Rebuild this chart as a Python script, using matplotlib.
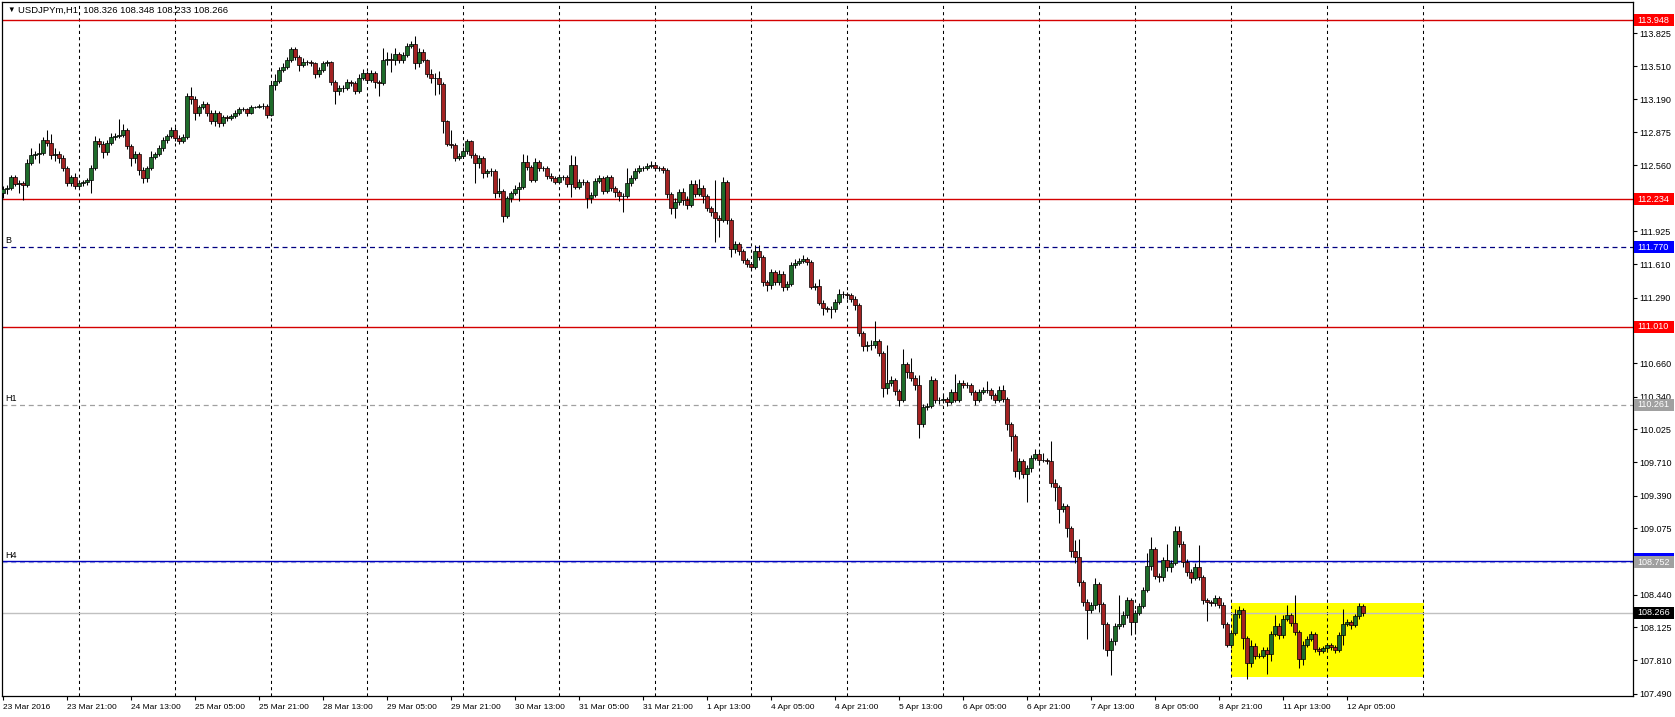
import numpy as np
import matplotlib.pyplot as plt
import matplotlib.transforms as mtransforms
from matplotlib.patches import Rectangle

plt.rcParams['font.family'] = ['Liberation Sans', 'DejaVu Sans']

# USDJPYm H1, bar 0 = 23 Mar 2016 05:00, open of first bar
first_open = 112.29

closes = [
    112.33, 112.34, 112.45, 112.38, 112.39, 112.37, 112.58, 112.66, 112.67, 112.68,
    112.80, 112.77, 112.66, 112.67, 112.63, 112.53, 112.39, 112.45, 112.36, 112.39,
    112.40, 112.42, 112.53, 112.79, 112.76, 112.69, 112.77, 112.83, 112.84, 112.85,
    112.90, 112.74, 112.63, 112.67, 112.51, 112.44, 112.53, 112.64, 112.67, 112.72,
    112.80, 112.84, 112.90, 112.82, 112.79, 112.83, 113.22, 113.19, 113.06, 113.12,
    113.15, 113.06, 112.98, 113.06, 112.96, 113.02, 113.01, 113.03, 113.06, 113.10,
    113.10, 113.06, 113.12, 113.12, 113.13, 113.13, 113.04, 113.33, 113.37, 113.47,
    113.50, 113.57, 113.67, 113.60, 113.52, 113.55, 113.55, 113.54, 113.43, 113.47,
    113.54, 113.55, 113.36, 113.27, 113.30, 113.30, 113.36, 113.35, 113.27, 113.40,
    113.44, 113.38, 113.44, 113.36, 113.35, 113.57, 113.58, 113.57, 113.63, 113.57,
    113.62, 113.70, 113.72, 113.54, 113.65, 113.57, 113.43, 113.40, 113.40, 113.34,
    112.98, 112.76, 112.75, 112.63, 112.65, 112.70, 112.79, 112.66, 112.58, 112.63,
    112.48, 112.50, 112.50, 112.29, 112.31, 112.07, 112.24, 112.29, 112.33, 112.35,
    112.59, 112.54, 112.42, 112.59, 112.53, 112.53, 112.46, 112.44, 112.40, 112.45,
    112.45, 112.38, 112.56, 112.35, 112.40, 112.40, 112.24, 112.27, 112.41, 112.44,
    112.31, 112.45, 112.34, 112.30, 112.26, 112.26, 112.39, 112.44, 112.50, 112.53,
    112.53, 112.55, 112.56, 112.53, 112.53, 112.51, 112.28, 112.15, 112.21, 112.30,
    112.23, 112.18, 112.38, 112.28, 112.34, 112.26, 112.15, 112.11, 112.05, 112.03,
    112.40, 112.03, 111.76, 111.80, 111.74, 111.65, 111.61, 111.58, 111.74, 111.68,
    111.44, 111.41, 111.53, 111.44, 111.52, 111.39, 111.42, 111.60, 111.62, 111.64,
    111.66, 111.63, 111.39, 111.40, 111.24, 111.19, 111.18, 111.18, 111.25, 111.32,
    111.32, 111.31, 111.28, 111.22, 110.95, 110.82, 110.83, 110.83, 110.87, 110.76,
    110.42, 110.47, 110.50, 110.39, 110.31, 110.65, 110.58, 110.52, 110.45, 110.08,
    110.24, 110.25, 110.50, 110.31, 110.31, 110.32, 110.29, 110.38, 110.31, 110.47,
    110.45, 110.45, 110.38, 110.31, 110.38, 110.40, 110.40, 110.35, 110.31, 110.40,
    110.32, 110.08, 109.96, 109.63, 109.72, 109.60, 109.65, 109.75, 109.79, 109.73,
    109.73, 109.72, 109.51, 109.47, 109.26, 109.29, 109.08, 108.86, 108.80, 108.56,
    108.37, 108.29, 108.34, 108.54, 108.35, 108.16, 107.91, 107.99, 108.14, 108.16,
    108.24, 108.39, 108.18, 108.26, 108.33, 108.48, 108.71, 108.88, 108.62, 108.61,
    108.77, 108.70, 108.74, 109.05, 108.93, 108.75, 108.66, 108.60, 108.70, 108.61,
    108.39, 108.37, 108.36, 108.41, 108.34, 108.16, 107.96, 108.07, 108.25, 108.29,
    108.02, 107.78, 107.95, 107.85, 107.85, 107.91, 107.87, 108.06, 108.14, 108.05,
    108.21, 108.24, 108.17, 108.08, 107.82, 107.96, 108.01, 108.06, 107.92, 107.90,
    107.93, 107.96, 107.94, 107.91, 108.05, 108.16, 108.18, 108.15, 108.23, 108.326,
    108.266,
]

highs = [
    112.36, 112.37, 112.47, 112.47, 112.42, 112.41, 112.62, 112.72, 112.70, 112.77,
    112.83, 112.90, 112.86, 112.72, 112.70, 112.66, 112.55, 112.47, 112.48, 112.42,
    112.42, 112.44, 112.56, 112.84, 112.82, 112.79, 112.80, 112.87, 112.87, 113.00,
    112.95, 112.92, 112.76, 112.70, 112.69, 112.54, 112.55, 112.70, 112.69, 112.75,
    112.83, 112.86, 112.93, 112.93, 112.85, 112.86, 113.25, 113.31, 113.22, 113.14,
    113.18, 113.17, 113.09, 113.09, 113.08, 113.04, 113.04, 113.05, 113.09, 113.12,
    113.12, 113.11, 113.14, 113.13, 113.15, 113.16, 113.15, 113.35, 113.43, 113.50,
    113.54, 113.60, 113.69, 113.69, 113.62, 113.59, 113.57, 113.57, 113.55, 113.50,
    113.56, 113.57, 113.56, 113.38, 113.33, 113.33, 113.39, 113.38, 113.37, 113.43,
    113.48, 113.46, 113.47, 113.46, 113.38, 113.68, 113.65, 113.64, 113.68, 113.65,
    113.65, 113.73, 113.75, 113.80, 113.68, 113.67, 113.58, 113.48, 113.44, 113.46,
    113.36, 112.99, 112.90, 112.77, 112.68, 112.73, 112.81, 112.80, 112.68, 112.66,
    112.65, 112.52, 112.53, 112.52, 112.44, 112.33, 112.26, 112.31, 112.37, 112.40,
    112.67, 112.66, 112.56, 112.63, 112.61, 112.55, 112.55, 112.48, 112.46, 112.47,
    112.47, 112.47, 112.66, 112.65, 112.43, 112.43, 112.42, 112.30, 112.44, 112.47,
    112.46, 112.47, 112.47, 112.36, 112.32, 112.29, 112.53, 112.47, 112.53, 112.56,
    112.55, 112.58, 112.60, 112.58, 112.55, 112.55, 112.53, 112.30, 112.24, 112.33,
    112.34, 112.26, 112.42, 112.42, 112.43, 112.37, 112.28, 112.17, 112.42, 112.08,
    112.45, 112.42, 112.05, 111.83, 111.82, 111.76, 111.67, 111.63, 111.79, 111.79,
    111.70, 111.46, 111.56, 111.55, 111.55, 111.54, 111.45, 111.63, 111.66, 111.67,
    111.70, 111.68, 111.65, 111.43, 111.47, 111.27, 111.21, 111.21, 111.28, 111.37,
    111.35, 111.34, 111.33, 111.30, 111.24, 110.97, 110.87, 110.88, 111.06, 110.89,
    110.78, 110.83, 110.54, 110.52, 110.41, 110.80, 110.67, 110.71, 110.55, 110.55,
    110.27, 110.28, 110.54, 110.52, 110.34, 110.35, 110.34, 110.41, 110.56, 110.50,
    110.50, 110.48, 110.47, 110.40, 110.41, 110.43, 110.49, 110.42, 110.37, 110.44,
    110.45, 110.34, 110.10, 109.98, 109.75, 109.74, 109.68, 109.78, 109.84, 109.81,
    109.80, 109.75, 109.91, 109.55, 109.49, 109.32, 109.31, 109.10, 108.96, 108.97,
    108.58, 108.40, 108.37, 108.60, 108.56, 108.37, 108.18, 108.02, 108.17, 108.44,
    108.28, 108.42, 108.41, 108.29, 108.36, 108.51, 108.84, 108.99, 108.90, 108.65,
    108.80, 108.93, 108.77, 109.10, 109.10, 108.95, 108.78, 108.69, 108.74, 108.92,
    108.63, 108.41, 108.39, 108.44, 108.43, 108.37, 108.18, 108.10, 108.30, 108.33,
    108.31, 108.04, 108.00, 107.98, 107.88, 107.94, 107.94, 108.09, 108.24, 108.17,
    108.24, 108.34, 108.26, 108.44, 108.10, 107.99, 108.04, 108.09, 108.08, 107.94,
    107.95, 107.98, 107.98, 107.96, 108.08, 108.30, 108.21, 108.20, 108.25, 108.36,
    108.348,
]

lows = [
    112.24, 112.28, 112.32, 112.36, 112.29, 112.23, 112.35, 112.56, 112.62, 112.58,
    112.66, 112.74, 112.62, 112.60, 112.58, 112.50, 112.36, 112.36, 112.33, 112.34,
    112.36, 112.37, 112.29, 112.51, 112.73, 112.63, 112.66, 112.75, 112.80, 112.82,
    112.83, 112.71, 112.55, 112.58, 112.47, 112.39, 112.40, 112.51, 112.62, 112.65,
    112.70, 112.77, 112.82, 112.79, 112.76, 112.77, 112.81, 113.15, 112.99, 113.03,
    113.10, 113.03, 112.95, 112.94, 112.93, 112.94, 112.98, 112.99, 113.01, 113.04,
    113.08, 113.03, 113.05, 113.11, 113.11, 113.10, 113.01, 113.03, 113.28, 113.35,
    113.45, 113.48, 113.55, 113.57, 113.46, 113.50, 113.52, 113.51, 113.40, 113.41,
    113.45, 113.51, 113.33, 113.15, 113.23, 113.26, 113.28, 113.32, 113.24, 113.25,
    113.38, 113.35, 113.36, 113.30, 113.22, 113.33, 113.52, 113.45, 113.52, 113.54,
    113.54, 113.60, 113.68, 113.48, 113.50, 113.55, 113.41, 113.35, 113.23, 113.24,
    112.87, 112.74, 112.72, 112.60, 112.61, 112.63, 112.67, 112.63, 112.39, 112.53,
    112.44, 112.45, 112.46, 112.24, 112.25, 112.01, 112.05, 112.21, 112.27, 112.22,
    112.33, 112.51, 112.40, 112.40, 112.50, 112.50, 112.43, 112.41, 112.38, 112.38,
    112.42, 112.35, 112.25, 112.33, 112.33, 112.37, 112.15, 112.20, 112.25, 112.39,
    112.28, 112.29, 112.31, 112.25, 112.22, 112.11, 112.24, 112.36, 112.42, 112.48,
    112.50, 112.51, 112.53, 112.51, 112.50, 112.48, 112.24, 112.09, 112.05, 112.18,
    112.18, 112.14, 112.16, 112.25, 112.26, 112.20, 112.12, 112.07, 111.82, 111.87,
    112.01, 112.00, 111.68, 111.72, 111.70, 111.62, 111.58, 111.55, 111.56, 111.65,
    111.40, 111.35, 111.37, 111.41, 111.41, 111.35, 111.36, 111.40, 111.57, 111.60,
    111.62, 111.60, 111.37, 111.36, 111.22, 111.12, 111.15, 111.09, 111.15, 111.23,
    111.29, 111.28, 111.25, 111.17, 110.92, 110.78, 110.78, 110.79, 110.81, 110.73,
    110.34, 110.36, 110.44, 110.35, 110.25, 110.29, 110.52, 110.49, 110.40, 109.94,
    110.05, 110.21, 110.23, 110.28, 110.27, 110.28, 110.25, 110.27, 110.29, 110.29,
    110.42, 110.42, 110.35, 110.26, 110.29, 110.36, 110.37, 110.32, 110.28, 110.29,
    110.29, 110.02, 109.82, 109.57, 109.55, 109.56, 109.33, 109.62, 109.73, 109.68,
    109.71, 109.69, 109.47, 109.34, 109.13, 109.23, 108.99, 108.80, 108.74, 108.52,
    108.33, 108.01, 108.26, 108.30, 108.27, 107.92, 107.85, 107.67, 107.96, 108.11,
    108.13, 108.22, 108.05, 108.06, 108.24, 108.31, 108.46, 108.68, 108.59, 108.56,
    108.57, 108.67, 108.66, 108.72, 108.90, 108.70, 108.62, 108.55, 108.58, 108.58,
    108.35, 108.19, 108.33, 108.33, 108.31, 108.12, 107.94, 107.93, 108.05, 108.22,
    107.92, 107.63, 107.75, 107.82, 107.83, 107.83, 107.68, 107.80, 108.04, 108.01,
    108.02, 108.19, 108.14, 108.05, 107.74, 107.76, 107.94, 107.99, 107.89, 107.86,
    107.88, 107.91, 107.91, 107.88, 107.89, 107.96, 108.14, 108.11, 108.13, 108.21,
    108.233,
]

time_labels = ['23 Mar 2016', '23 Mar 21:00', '24 Mar 13:00', '25 Mar 05:00', '25 Mar 21:00',
               '28 Mar 13:00', '29 Mar 05:00', '29 Mar 21:00', '30 Mar 13:00', '31 Mar 05:00',
               '31 Mar 21:00', '1 Apr 13:00', '4 Apr 05:00', '4 Apr 21:00', '5 Apr 13:00',
               '6 Apr 05:00', '6 Apr 21:00', '7 Apr 13:00', '8 Apr 05:00', '8 Apr 21:00',
               '11 Apr 13:00', '12 Apr 05:00']
label_bars = list(range(0, 337, 16))
day_bars = [19, 43, 67, 91, 115, 139, 163, 187, 211, 235, 259, 283, 307, 331, 355]

# scale values (the ones hidden behind level boxes are left out)
price_ticks = [113.825, 113.510, 113.190, 112.875, 112.560, 111.925, 111.610,
               111.290, 110.660, 110.340, 110.025, 109.710, 109.390, 109.075,
               108.440, 108.125, 107.810, 107.490]

red_levels = [113.948, 112.234, 111.010]
b_level = 111.770
h1_level = 110.261
h4_level = 108.752
h4_blue = 108.764
last_price = 108.266

box_bars = (307, 355.25)          # 11 Apr 00:00 .. 13 Apr 00:00
box_prices = (107.645, 108.36)

bull = '#1e6b2a'
bear = '#a32222'
red = '#d40000'

o = np.array([first_open] + closes[:-1])
c = np.array(closes)
h = np.array(highs)
l = np.array(lows)
x = np.arange(len(c))
up = c >= o

fig = plt.figure(figsize=(16.75, 7.17), dpi=100)
ax = fig.add_axes([2 / 1675, 21 / 717, 1631 / 1675, 694 / 717])
ax.set_xlim(-0.25, 407.5)
ax.set_ylim(107.467, 114.125)

ax.add_patch(Rectangle((box_bars[0], box_prices[0]), box_bars[1] - box_bars[0],
                       box_prices[1] - box_prices[0], fc='#ffff00', ec='none', zorder=0.5))

for d in day_bars:
    ax.axvline(d, color='black', lw=0.75, ls=(0, (3, 3)), zorder=1)

for lv in red_levels:
    ax.axhline(lv, color=red, lw=1.0, zorder=1.2)
ax.axhline(b_level, color='#000080', lw=0.9, ls=(0, (4, 3)), zorder=1.2)
ax.axhline(h1_level, color='#a0a0a0', lw=0.9, ls=(0, (4, 3)), zorder=1.2)
ax.axhline(h4_level, color='#a0a8dc', lw=0.9, ls=(0, (4, 3)), zorder=1.2)
ax.axhline(h4_blue, color='#0000c0', lw=1.0, zorder=1.2)
ax.axhline(last_price, color='#c0c0c0', lw=1.0, zorder=1.2)

trans = mtransforms.blended_transform_factory(ax.transAxes, ax.transData)
for name, lv in [('B', b_level), ('H1', h1_level), ('H4', h4_level)]:
    ax.annotate(name, xy=(0.002, lv), xycoords=trans, xytext=(0, 1.5),
                textcoords='offset points', fontsize=6.5, va='bottom', ha='left')

# candles
ax.vlines(x, l, h, color='black', lw=0.75, zorder=3)
ax.bar(x[up], (c - o)[up], bottom=o[up], width=0.8, color=bull,
       edgecolor='black', linewidth=0.5, zorder=4)
ax.bar(x[~up], (c - o)[~up], bottom=o[~up], width=0.8, color=bear,
       edgecolor='black', linewidth=0.5, zorder=4)

# axes
for s in ax.spines.values():
    s.set_color('black')
    s.set_linewidth(0.9)
ax.yaxis.tick_right()
ax.set_yticks(price_ticks)
ax.set_yticklabels([f'{v:.3f}' for v in price_ticks])
ax.tick_params(axis='y', length=3, width=0.8, pad=1.5, labelsize=6.5)
ax.set_xticks(label_bars)
ax.set_xticklabels(time_labels, ha='left')
ax.tick_params(axis='x', length=3, width=0.8, pad=2.5, labelsize=6)

# price boxes on the scale
bh = 0.115
def price_box(p, fc, txt=None):
    ax.add_patch(Rectangle((1.0006, p - bh / 2), 0.0246, bh, transform=trans,
                           fc=fc, ec='none', clip_on=False, zorder=6))
    if txt:
        ax.text(1.0025, p, txt, transform=trans, color='white', fontsize=6.5,
                va='center', ha='left', clip_on=False, zorder=7)

for lv in red_levels:
    price_box(lv, '#ff0000', f'{lv:.3f}')
price_box(b_level, '#0000ff', f'{b_level:.3f}')
price_box(h1_level, '#a0a0a0', f'{h1_level:.3f}')
price_box(h4_level + 0.025, '#0000ff')
price_box(h4_level, '#a0a0a0', f'{h4_level:.3f}')
price_box(last_price, '#000000', f'{last_price:.3f}')

fig.text(7 / 1675, 1 - 10 / 717, '▼', fontsize=5.5, va='center', ha='left')
fig.text(18 / 1675, 1 - 10 / 717, 'USDJPYm,H1  108.326 108.348 108.233 108.266',
         fontsize=6.8, va='center', ha='left')

fig.savefig('out.png', dpi=100)
